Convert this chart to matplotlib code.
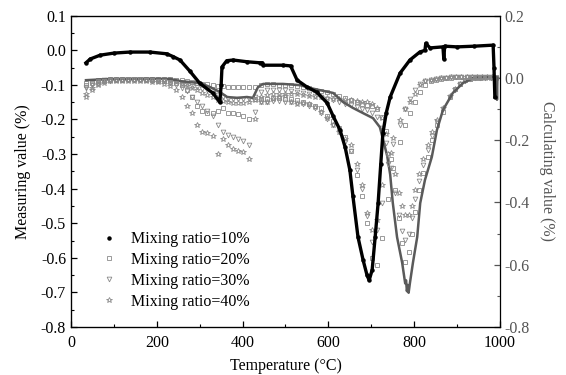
import matplotlib
matplotlib.use("Agg")
import matplotlib.pyplot as plt
from matplotlib.ticker import MultipleLocator, FormatStrFormatter

plt.rcParams['font.family'] = ['Liberation Serif', 'DejaVu Serif']
plt.rcParams['axes.unicode_minus'] = False

# measuring value, mixing ratio 10% (dense black dots, left axis)
t_10 = [35, 45, 68, 100, 137, 184, 223, 238, 254, 277, 300, 331, 347, 350, 352,
        363, 378, 410, 440, 446, 448, 494, 512, 527, 550, 573, 597, 611, 627,
        639, 650, 657, 669, 681, 690, 695, 702, 709, 716, 722, 727, 735, 744,
        767, 790, 813, 825, 827, 837, 867, 869, 871, 900, 940, 984, 986, 988]
m_10 = [-0.036, -0.025, -0.014, -0.008, -0.005, -0.005, -0.010, -0.018, -0.028,
        -0.060, -0.095, -0.124, -0.150, -0.100, -0.048, -0.030, -0.028, -0.033,
        -0.036, -0.036, -0.043, -0.043, -0.045, -0.086, -0.106, -0.121, -0.152,
        -0.190, -0.230, -0.280, -0.346, -0.420, -0.540, -0.607, -0.650, -0.665,
        -0.635, -0.540, -0.440, -0.330, -0.240, -0.180, -0.135, -0.066, -0.028,
        -0.005, 0.000, 0.020, 0.007, 0.010, -0.025, 0.012, 0.010, 0.012, 0.015,
        -0.050, -0.135]

# calculating value, mixing ratio 10% (grey line, right axis)
t_c10 = [35, 91, 161, 231, 254, 301, 324, 347, 364, 387, 410, 424, 436, 448,
         494, 534, 557, 580, 611, 634, 657, 681, 704, 720, 737, 744, 750, 760,
         772, 779, 781, 783, 785, 787, 790, 797, 807, 814, 825, 841, 853, 867,
         890, 914, 937, 970, 992, 993, 994]
c_10 = [-0.007, -0.003, -0.002, -0.003, -0.010, -0.016, -0.029, -0.045, -0.061,
        -0.064, -0.061, -0.064, -0.029, -0.019, -0.019, -0.023, -0.032, -0.039,
        -0.048, -0.077, -0.096, -0.113, -0.129, -0.158, -0.250, -0.310, -0.400,
        -0.511, -0.594, -0.660, -0.650, -0.685, -0.665, -0.690, -0.659, -0.594,
        -0.511, -0.402, -0.328, -0.254, -0.167, -0.103, -0.048, -0.016, 0.000,
        0.003, 0.003, -0.070, 0.000]

# measuring values of 20/30/40 % (left axis)
t_meas = [35, 48, 62, 76, 90, 104, 118, 132, 146, 160, 174, 188, 202, 216, 230, 244,
          258, 270, 282, 294, 306, 318, 330, 342, 354, 366, 378, 390, 402, 414,
          428, 442, 456, 470, 484, 498, 512, 526, 540, 554, 568, 582, 596, 610,
          624, 638, 652, 666,
          678, 690, 702, 713, 725, 739, 751, 767, 779, 790, 802, 814,
          826, 838, 850, 862, 874, 886, 898, 910, 922, 934, 946, 958, 970, 982]
m_20 = [-0.100, -0.094, -0.090, -0.088, -0.086, -0.085, -0.085, -0.084, -0.084,
        -0.084, -0.085, -0.086, -0.088, -0.090, -0.092, -0.095,
        -0.100, -0.115, -0.135, -0.160, -0.175, -0.181, -0.182, -0.176, -0.168,
        -0.180, -0.181, -0.183, -0.190, -0.200,
        -0.140, -0.142, -0.140, -0.138, -0.138, -0.140, -0.142, -0.145, -0.150,
        -0.155, -0.160, -0.168, -0.190, -0.205, -0.225, -0.250, -0.290, -0.360,
        -0.420, -0.500, -0.600, -0.620, -0.543, -0.430, -0.340, -0.265, -0.216,
        -0.181, -0.149, -0.120,
        -0.100, -0.090, -0.085, -0.082, -0.080, -0.079, -0.078, -0.078, -0.078,
        -0.078, -0.078, -0.078, -0.078, -0.078]
m_30 = [-0.108, -0.100, -0.095, -0.090, -0.088, -0.087, -0.087, -0.087, -0.087,
        -0.087, -0.087, -0.088, -0.089, -0.090, -0.095, -0.100,
        -0.108, -0.118, -0.135, -0.150, -0.160, -0.175, -0.190, -0.215, -0.235,
        -0.245, -0.252, -0.255, -0.262, -0.275,
        -0.178, -0.150, -0.148, -0.147, -0.146, -0.148, -0.150, -0.152, -0.156,
        -0.160, -0.168, -0.180, -0.200, -0.215, -0.235, -0.265, -0.290, -0.345,
        -0.400, -0.480, -0.555, -0.520, -0.440, -0.330, -0.270, -0.215, -0.170,
        -0.140, -0.115, -0.098,
        -0.090, -0.085, -0.082, -0.080, -0.079, -0.078, -0.078, -0.078, -0.078,
        -0.078, -0.078, -0.078, -0.078, -0.078]
m_40 = [-0.125, -0.110, -0.100, -0.094, -0.090, -0.089, -0.089, -0.089, -0.089,
        -0.089, -0.090, -0.091, -0.092, -0.096, -0.102, -0.115,
        -0.135, -0.160, -0.180, -0.215, -0.235, -0.240, -0.248, -0.300, -0.255,
        -0.275, -0.285, -0.290, -0.295, -0.315,
        -0.200, -0.150, -0.150, -0.140, -0.135, -0.132, -0.150, -0.155, -0.152,
        -0.155, -0.165, -0.178, -0.195, -0.215, -0.235, -0.255, -0.275, -0.330,
        -0.390, -0.470, -0.520, -0.490, -0.390, -0.300, -0.254, -0.202, -0.170,
        -0.149, -0.125, -0.100,
        -0.090, -0.085, -0.082, -0.080, -0.079, -0.078, -0.078, -0.078, -0.078,
        -0.078, -0.078, -0.078, -0.078, -0.078]

# calculating values of 20/30/40 % (right axis)
t_calc = [35, 48, 62, 76, 90, 104, 118, 132, 146, 160, 174, 188, 202, 216,
          230, 244, 258, 270, 282, 294, 306, 318, 330, 342, 354, 366, 378, 390,
          402, 414,
          428, 442, 456, 470, 484, 498, 512, 526, 540, 554, 568, 582, 596, 610,
          624, 638, 652, 666, 678, 690, 702, 713,
          725, 735, 745, 755, 765, 772, 779, 787, 795, 803, 812, 821, 832, 841,
          853, 867, 883, 895, 907, 918, 930,
          942, 954, 966, 978, 990]
c_20 = [-0.016, -0.010, -0.007, -0.005, -0.004, -0.003, -0.003, -0.003, -0.003,
        -0.003, -0.003, -0.003, -0.003, -0.003,
        -0.004, -0.006, -0.008, -0.010, -0.012, -0.015, -0.018, -0.020, -0.022,
        -0.025, -0.027, -0.028, -0.029, -0.029, -0.029, -0.030,
        -0.028, -0.022, -0.020, -0.020, -0.021, -0.022, -0.024, -0.027, -0.030,
        -0.033, -0.037, -0.041, -0.046, -0.052, -0.058, -0.064, -0.070, -0.076,
        -0.082, -0.086, -0.090, -0.100,
        -0.125, -0.170, -0.260, -0.360, -0.450, -0.530, -0.590, -0.560, -0.500,
        -0.430, -0.360, -0.305, -0.255, -0.200, -0.150, -0.110, -0.060, -0.035,
        -0.018, -0.008, -0.002,
        0.000, 0.001, 0.002, 0.002, 0.002]
c_30 = [-0.029, -0.018, -0.010, -0.007, -0.005, -0.005, -0.005, -0.005, -0.005,
        -0.005, -0.005, -0.005, -0.005, -0.005,
        -0.007, -0.010, -0.015, -0.020, -0.025, -0.030, -0.035, -0.040, -0.048,
        -0.055, -0.062, -0.066, -0.068, -0.069, -0.068, -0.066,
        -0.060, -0.045, -0.040, -0.038, -0.038, -0.040, -0.042, -0.045, -0.048,
        -0.052, -0.057, -0.062, -0.067, -0.072, -0.077, -0.082, -0.087, -0.092,
        -0.098, -0.104, -0.112, -0.125,
        -0.160, -0.210, -0.290, -0.370, -0.440, -0.490, -0.520, -0.500, -0.450,
        -0.390, -0.330, -0.280, -0.230, -0.185, -0.140, -0.100, -0.060, -0.038,
        -0.020, -0.010, -0.004,
        -0.001, 0.000, 0.001, 0.001, 0.001]
c_40 = [-0.061, -0.040, -0.020, -0.010, -0.007, -0.006, -0.006, -0.006, -0.006,
        -0.006, -0.006, -0.006, -0.006, -0.006,
        -0.009, -0.013, -0.020, -0.027, -0.033, -0.040, -0.047, -0.054, -0.062,
        -0.070, -0.075, -0.078, -0.080, -0.080, -0.079, -0.076,
        -0.070, -0.060, -0.055, -0.052, -0.050, -0.050, -0.051, -0.053, -0.055,
        -0.057, -0.060, -0.062, -0.064, -0.066, -0.068, -0.070, -0.072, -0.074,
        -0.076, -0.078, -0.082, -0.095,
        -0.130, -0.180, -0.240, -0.310, -0.370, -0.410, -0.440, -0.440, -0.410,
        -0.360, -0.310, -0.260, -0.215, -0.175, -0.135, -0.095, -0.058, -0.035,
        -0.018, -0.008, -0.003,
        0.000, 0.001, 0.001, 0.001, 0.001]

labels = ['Mixing ratio=10%', 'Mixing ratio=20%', 'Mixing ratio=30%', 'Mixing ratio=40%']
grey = '#8a8a8a'

fig = plt.figure(figsize=(5.66, 3.75), dpi=100)
ax = fig.add_axes([0.1254, 0.128, 0.758, 0.830])
ax2 = ax.twinx()

mk = dict(ls='none', mfc='none', mec=grey, mew=0.6)
ax.plot(t_meas, m_20, marker='s', ms=3.0, label=labels[1], **mk)
ax.plot(t_meas, m_30, marker='v', ms=3.4, label=labels[2], **mk)
ax.plot(t_meas, m_40, marker='*', ms=4.2, label=labels[3], **mk)
ax2.plot(t_calc, c_20, marker='s', ms=3.0, **mk)
ax2.plot(t_calc, c_30, marker='v', ms=3.4, **mk)
ax2.plot(t_calc, c_40, marker='*', ms=4.2, **mk)

ax2.plot(t_c10, c_10, color='#5a5a5a', lw=1.8)
ax.plot(t_10, m_10, color='black', lw=2.4, zorder=5)
ax.plot(t_10, m_10, ls='none', marker='o', ms=2.2, color='black', label=labels[0], zorder=5)
ax.set_zorder(ax2.get_zorder() + 1)
ax.patch.set_visible(False)

ax.set_xlim(0, 1000)
ax.set_ylim(-0.8, 0.1)
ax2.set_ylim(-0.8, 0.2)

ax.xaxis.set_major_locator(MultipleLocator(200))
ax.xaxis.set_minor_locator(MultipleLocator(100))
ax.yaxis.set_major_locator(MultipleLocator(0.1))
ax.yaxis.set_minor_locator(MultipleLocator(0.05))
ax.yaxis.set_major_formatter(FormatStrFormatter('%.1f'))
ax2.yaxis.set_major_locator(MultipleLocator(0.2))
ax2.yaxis.set_minor_locator(MultipleLocator(0.1))
ax2.yaxis.set_major_formatter(FormatStrFormatter('%.1f'))

ax.tick_params(axis='both', which='both', direction='in', labelsize=11.5, top=False, right=False)
ax.tick_params(axis='x', which='major', pad=6)
ax.tick_params(which='major', length=4.5, width=0.9)
ax.tick_params(which='minor', length=2.5, width=0.8)
ax2.tick_params(axis='y', which='both', direction='in', labelsize=11.5,
                colors='#555555')
ax2.tick_params(which='major', length=4.5, width=0.9)
ax2.tick_params(which='minor', length=2.5, width=0.8)
ax2.spines['right'].set_color('#666666')
for s in ['left', 'bottom', 'top']:
    ax.spines[s].set_linewidth(0.9)
ax2.spines['right'].set_linewidth(0.9)

ax.set_xlabel('Temperature (°C)', fontsize=11.5, labelpad=5)
ax.set_ylabel('Measuring value (%)', fontsize=11.5, labelpad=7)
ax2.set_ylabel('Calculating value (%)', fontsize=11.5, rotation=270, labelpad=18,
               color='#555555')

h, l = ax.get_legend_handles_labels()
order = [3, 0, 1, 2]
ax.legend([h[i] for i in order], [l[i] for i in order], loc='lower left',
          bbox_to_anchor=(0.043, 0.02), frameon=False, fontsize=11.5,
          handlelength=1.0, handletextpad=0.9, labelspacing=0.3, borderpad=0.2)

fig.savefig('out.png', dpi=100)
